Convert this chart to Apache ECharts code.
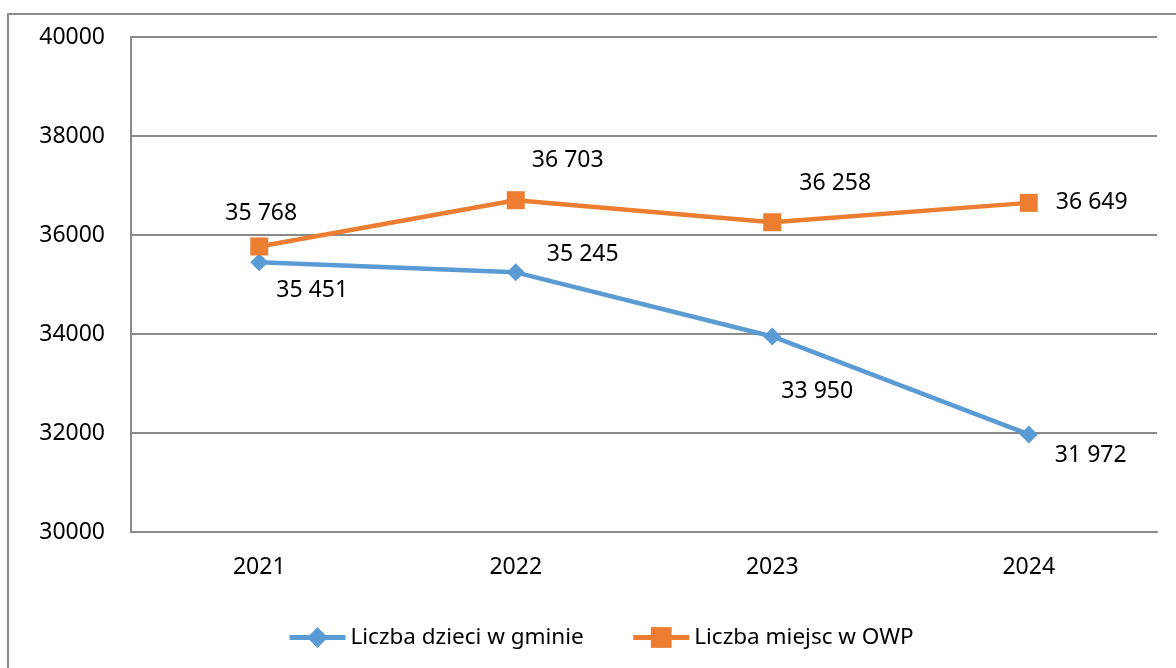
<!DOCTYPE html>
<html>
<head>
<meta charset="utf-8">
<script src="https://cdn.jsdelivr.net/npm/echarts@6/dist/echarts.min.js"></script>
<style>
  html, body { margin: 0; padding: 0; background: #fff; }
  #chart { width: 1176px; height: 668px; }
</style>
</head>
<body>
<div id="chart"></div>
<script>
  // dane z wykresu
  var years = ['2021', '2022', '2023', '2024'];
  var dzieci = [35451, 35245, 33950, 31972];
  var miejsca = [35768, 36703, 36258, 36649];
  var yTicks = { min: 30000, max: 40000, interval: 2000 };

  // przesunięcia etykiet względem punktów (px)
  var dzieciOffsets = [[53, 28], [67, -18], [45, 55], [62, 21]];
  var miejscaOffsets = [[2, -33], [52, -40], [63, -39], [63, 0]];

  var font = '"Noto Sans", "Open Sans", sans-serif';
  var gray = '#8a8a8a';

  function fmt(v) {
    return String(v).replace(/\B(?=(\d{3})+(?!\d))/g, ' ');
  }

  function withLabels(values, offsets) {
    return values.map(function (v, i) {
      return {
        value: v,
        label: { offset: offsets[i] }
      };
    });
  }

  var labelBase = {
    show: true,
    position: 'inside',
    align: 'center',
    verticalAlign: 'middle',
    color: '#000',
    fontFamily: font,
    fontSize: 23,
    formatter: function (p) { return fmt(p.value); }
  };

  var myChart = echarts.init(document.getElementById('chart'));
  var option = {
    animation: false,
    backgroundColor: '#fff',
    graphic: [{
      type: 'rect',
      shape: { x: 8, y: 14, width: 1200, height: 700 },
      style: { fill: 'none', stroke: gray, lineWidth: 2 },
      silent: true
    }],
    grid: { left: 131, right: 19, top: 37, bottom: 136 },
    legend: {
      top: 621,
      left: 282,
      itemWidth: 56,
      itemHeight: 26,
      itemGap: 47,
      lineStyle: { width: 5 },
      textStyle: { fontFamily: font, fontSize: 22.5, color: '#000' },
      data: ['Liczba dzieci w gminie', 'Liczba miejsc w OWP']
    },
    xAxis: {
      type: 'category',
      data: years,
      axisLine: { lineStyle: { color: gray, width: 2 } },
      axisTick: { show: false },
      axisLabel: { margin: 24, color: '#000', fontFamily: font, fontSize: 23 }
    },
    yAxis: {
      type: 'value',
      min: yTicks.min,
      max: yTicks.max,
      interval: yTicks.interval,
      axisLine: { show: true, lineStyle: { color: gray, width: 2 } },
      axisTick: { show: false },
      splitLine: { lineStyle: { color: gray, width: 2 } },
      axisLabel: {
        margin: 26, color: '#000', fontFamily: font, fontSize: 23,
        formatter: function (v) { return String(v); }
      }
    },
    series: [{
      name: 'Liczba dzieci w gminie',
      type: 'line',
      symbol: 'diamond',
      symbolSize: 18,
      itemStyle: { color: '#5B9BD5' },
      lineStyle: { color: '#5B9BD5', width: 4.5 },
      label: labelBase,
      data: withLabels(dzieci, dzieciOffsets)
    }, {
      name: 'Liczba miejsc w OWP',
      type: 'line',
      symbol: 'rect',
      symbolSize: 18,
      itemStyle: { color: '#ED7D31' },
      lineStyle: { color: '#ED7D31', width: 4.5 },
      label: labelBase,
      data: withLabels(miejsca, miejscaOffsets)
    }]
  };
  myChart.setOption(option);
</script>
</body>
</html>
